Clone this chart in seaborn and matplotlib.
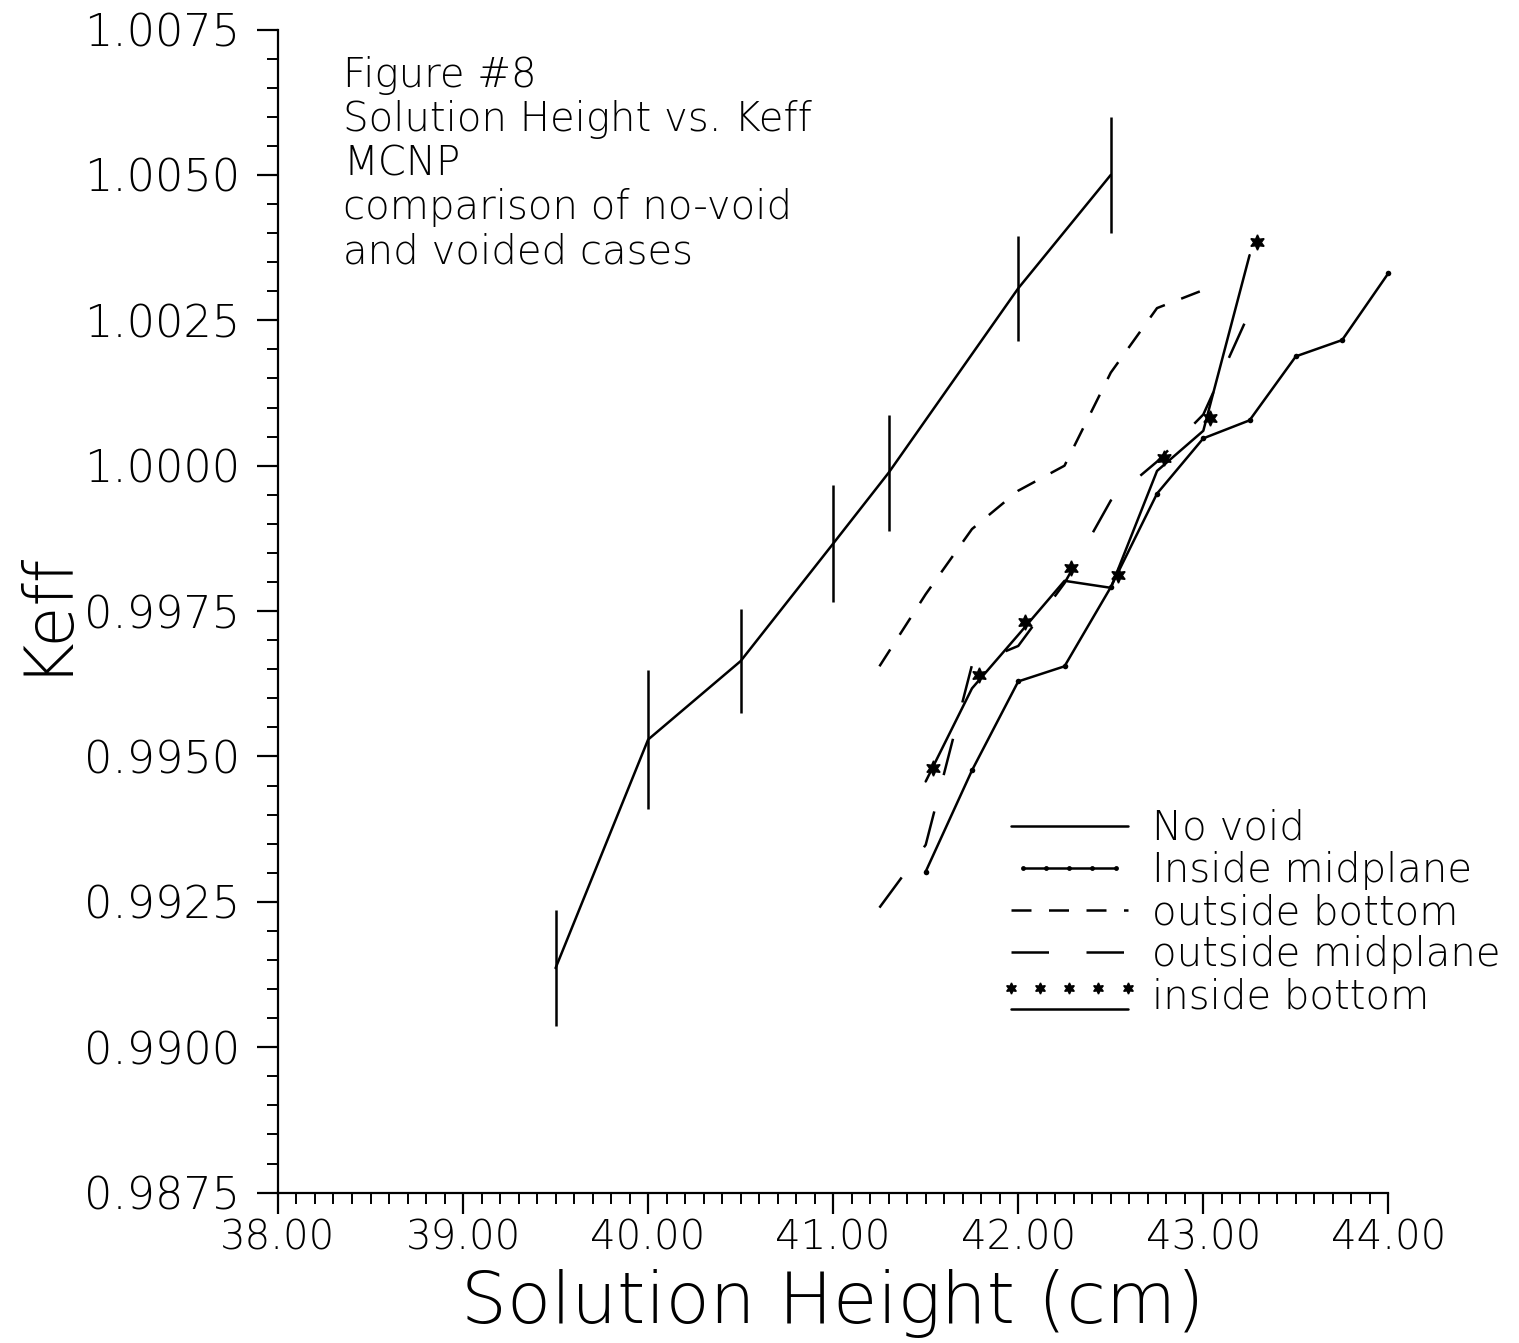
import numpy as np
import pandas as pd
import matplotlib
matplotlib.use("Agg")
import matplotlib.pyplot as plt
import seaborn as sns
from matplotlib.lines import Line2D
from matplotlib.legend_handler import HandlerBase, HandlerLine2D
from matplotlib.ticker import MultipleLocator, FormatStrFormatter
from matplotlib.transforms import ScaledTranslation

# ---- MCNP results: solution height (cm) vs. Keff ----
no_void_height = [39.5, 40.0, 40.5, 41.0, 41.3, 42.0, 42.5]
no_void_keff = [0.99136, 0.99529, 0.99664, 0.99866, 0.99988, 1.00305, 1.00500]
no_void_sigma = [0.0010, 0.0012, 0.0009, 0.0010, 0.0010, 0.0009, 0.0010]

inside_mid_height = [41.5, 41.75, 42.0, 42.25, 42.5, 42.75, 43.0, 43.25, 43.5, 43.75, 44.0]
inside_mid_keff = [0.99302, 0.99476, 0.99629, 0.99655, 0.99791, 0.99952,
                   1.00047, 1.00078, 1.00188, 1.00216, 1.00331]

outside_bot_height = [41.25, 41.5, 41.75, 42.0, 42.25, 42.5, 42.75, 43.0]
outside_bot_keff = [0.99655, 0.99779, 0.99891, 0.99957, 1.00000, 1.00160, 1.00271, 1.00302]

outside_mid_height = [41.25, 41.5, 41.75, 42.0, 42.25, 42.5, 42.75, 43.0, 43.25]
outside_mid_keff = [0.99240, 0.99348, 0.99657, 0.99690, 0.99798, 0.99940,
                    1.00007, 1.00088, 1.00264]

inside_bot_height = [41.5, 41.75, 42.0, 42.25, 42.5, 42.75, 43.0, 43.25]
inside_bot_keff = [0.99457, 0.99617, 0.99709, 0.99802, 0.99790, 0.99991, 1.00060, 1.00362]

series_labels = ["No void", "Inside midplane", "outside bottom",
                 "outside midplane", "inside bottom"]
title_lines = ["Figure #8", "Solution Height vs. Keff", "MCNP",
               "comparison of no-void", "and voided cases"]

sns.set_style("ticks")
plt.rcParams["font.family"] = ["DejaVu Sans"]
plt.rcParams["font.weight"] = "light"
plt.rcParams["axes.labelweight"] = "light"
for key in ("text.color", "axes.labelcolor", "xtick.color", "ytick.color",
            "axes.edgecolor"):
    plt.rcParams[key] = "black"

LW = 1.8
STAR = (6, 1, 0)

fig = plt.figure(figsize=(15.19, 13.43), dpi=100)
ax = fig.add_axes([0.183, 0.112, 0.731, 0.866])


def draw(h, k, **kw):
    df = pd.DataFrame({"height": h, "keff": k})
    sns.lineplot(data=df, x="height", y="keff", ax=ax, color="k", lw=LW,
                 sort=False, estimator=None, legend=False, **kw)
    return ax.lines[-1]


# no void: solid with 1-sigma bars
draw(no_void_height, no_void_keff)
ax.errorbar(no_void_height, no_void_keff, yerr=no_void_sigma, fmt="none",
            ecolor="k", elinewidth=LW, capsize=0)

# inside midplane: solid with small dots
ln = draw(inside_mid_height, inside_mid_keff, marker="o", markersize=4,
          markeredgewidth=0)
ln.set_clip_on(False)

# outside bottom: short dashes
ln = draw(outside_bot_height, outside_bot_keff)
ln.set_dashes((8, 7))

# outside midplane: long dashes
ln = draw(outside_mid_height, outside_mid_keff)
ln.set_dashes((15, 15))

# inside bottom: solid line, star symbols plotted just above-right of each point
draw(inside_bot_height, inside_bot_keff)
star_shift = ax.transData + ScaledTranslation(5 / 72, 9.4 / 72, fig.dpi_scale_trans)
ax.plot(inside_bot_height, inside_bot_keff, ls="none", marker=STAR, ms=11,
        color="k", transform=star_shift, clip_on=False)

# ---- axes ----
ax.set_xlim(38, 44)
ax.set_ylim(0.9875, 1.0075)
ax.xaxis.set_major_locator(MultipleLocator(1.0))
ax.xaxis.set_minor_locator(MultipleLocator(0.1))
ax.yaxis.set_major_locator(MultipleLocator(0.0025))
ax.yaxis.set_minor_locator(MultipleLocator(0.0005))
ax.xaxis.set_major_formatter(FormatStrFormatter("%.2f"))
ax.yaxis.set_major_formatter(FormatStrFormatter("%.4f"))
for s in ("top", "right"):
    ax.spines[s].set_visible(False)
for s in ("left", "bottom"):
    ax.spines[s].set_linewidth(1.6)
    ax.spines[s].set_color("k")
ax.tick_params(axis="both", which="major", length=15, width=1.6, color="k")
ax.tick_params(axis="both", which="minor", length=8, width=1.4, color="k")
ax.tick_params(axis="y", which="major", labelsize=32, pad=12)
ax.tick_params(axis="x", which="major", labelsize=29, pad=4)

ax.set_xlabel("Solution Height (cm)", fontsize=52, fontweight="light", labelpad=8)
ax.set_ylabel("Keff", fontsize=48, fontweight="light", labelpad=6)

ax.text(0.0586, 0.977, "\n".join(title_lines), transform=ax.transAxes,
        ha="left", va="top", fontsize=29, linespacing=1.16)


# ---- legend ----
class StarsOverLine(HandlerBase):
    def create_artists(self, legend, orig_handle, xdescent, ydescent,
                       width, height, fontsize, trans):
        x0, x1 = -xdescent, width - xdescent
        yl = -ydescent + 0.0 * height
        ys = -ydescent + 0.75 * height
        line = Line2D([x0, x1], [yl, yl], color="k", lw=LW)
        stars = Line2D(np.linspace(x0, x1, 5), [ys] * 5, ls="none",
                       marker=STAR, ms=8, color="k")
        line.set_transform(trans)
        stars.set_transform(trans)
        return [line, stars]


h_nv = Line2D([], [], color="k", lw=LW)
h_im = Line2D([], [], color="k", lw=LW, marker="o", ms=3.5, markeredgewidth=0)
h_ob = Line2D([], [], color="k", lw=LW, linestyle=(0, (8, 7)))
h_om = Line2D([], [], color="k", lw=LW, linestyle=(0, (15, 15)))
h_ib = Line2D([], [], color="k", lw=LW)
leg = ax.legend([h_nv, h_im, h_ob, h_om, h_ib], series_labels,
                loc="upper left", bbox_to_anchor=(0.66, 0.33), frameon=False,
                fontsize=29, handlelength=2.9, handletextpad=0.6,
                labelspacing=0.08, borderaxespad=0, borderpad=0,
                handler_map={h_im: HandlerLine2D(numpoints=5),
                             h_ib: StarsOverLine()})

fig.savefig("out.png", dpi=100)
